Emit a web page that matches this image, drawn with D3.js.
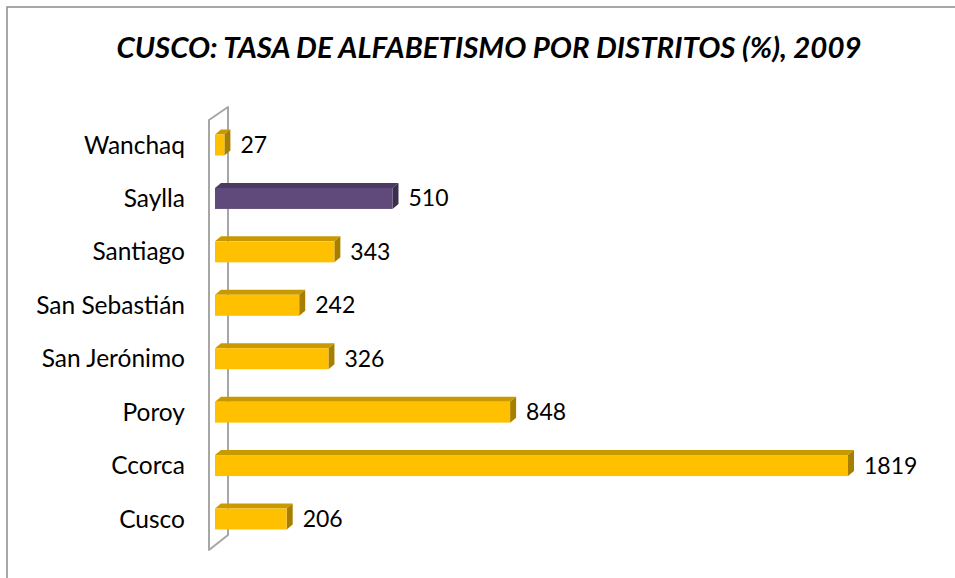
<!DOCTYPE html>
<html>
<head>
<meta charset="utf-8">
<script src="https://cdn.jsdelivr.net/npm/d3@7"></script>
<style>
  html, body { margin: 0; padding: 0; background: #fff; }
  svg { display: block; }
</style>
</head>
<body>
<div id="chart"></div>
<script>
// datos
const districts = ["Wanchaq", "Saylla", "Santiago", "San Sebastián", "San Jerónimo", "Poroy", "Ccorca", "Cusco"];
const values = [27, 510, 343, 242, 326, 848, 1819, 206];
const highlighted = ["Saylla"];
const title = "CUSCO: TASA DE ALFABETISMO POR DISTRITOS (%), 2009";

const COLORS = {
  gold: { front: "#FFC000", top: "#C99A00", side: "#A67F00" },
  purple: { front: "#604A7B", top: "#4B3A62", side: "#3C2E4F" },
  wall: "#A6A6A6",
  frame: "#8C8C8C"
};

const width = 955, height = 578;
const depthX = 6, depthY = -5;
const barH = 21;

const svg = d3.select("#chart").append("svg")
  .attr("width", width)
  .attr("height", height);

// marco
svg.append("rect")
  .attr("x", 7).attr("y", 7)
  .attr("width", width + 20).attr("height", height + 20)
  .attr("fill", "#fff")
  .attr("stroke", COLORS.frame)
  .attr("stroke-width", 1.5);

// titulo
svg.append("text")
  .attr("x", 489).attr("y", 58)
  .attr("text-anchor", "middle")
  .attr("font-family", "Lato, 'Open Sans', sans-serif")
  .attr("font-weight", "bold")
  .attr("font-style", "italic")
  .attr("font-size", "29px")
  .attr("textLength", 745)
  .attr("lengthAdjust", "spacingAndGlyphs")
  .attr("fill", "#000")
  .text(title);

const x = d3.scaleLinear().domain([0, 1819]).range([215, 848]);
const y = d3.scalePoint().domain(districts).range([118.3, 545.7]).padding(0.5);

// pared lateral 3D
const wallL = 209, wallR = 228;
svg.append("path")
  .attr("d", `M${wallL},120 L${wallR},107 L${wallR},535 L${wallL},550 Z`)
  .attr("fill", "#fff")
  .attr("stroke", COLORS.wall)
  .attr("stroke-width", 2)
  .attr("stroke-linejoin", "round");

const data = districts.map((d, i) => ({ name: d, value: values[i] }));

const bars = svg.append("g").selectAll("g.bar")
  .data(data)
  .join("g")
  .attr("class", "bar");

const col = d => highlighted.includes(d.name) ? COLORS.purple : COLORS.gold;

// cara superior
bars.append("path")
  .attr("d", d => {
    const x0 = x(0), x1 = x(d.value), yt = y(d.name) - barH / 2;
    return `M${x0},${yt} L${x0 + depthX},${yt + depthY} L${x1 + depthX},${yt + depthY} L${x1},${yt} Z`;
  })
  .attr("fill", d => col(d).top);

// cara lateral
bars.append("path")
  .attr("d", d => {
    const x1 = x(d.value), yt = y(d.name) - barH / 2;
    return `M${x1},${yt} L${x1 + depthX},${yt + depthY} L${x1 + depthX},${yt + barH + depthY} L${x1},${yt + barH} Z`;
  })
  .attr("fill", d => col(d).side);

// cara frontal
bars.append("rect")
  .attr("x", x(0))
  .attr("y", d => y(d.name) - barH / 2)
  .attr("width", d => x(d.value) - x(0))
  .attr("height", barH)
  .attr("fill", d => col(d).front);

// etiquetas de valor
bars.append("text")
  .attr("x", d => x(d.value) + depthX + 10)
  .attr("y", d => y(d.name))
  .attr("dy", "0.35em")
  .attr("font-family", "Lato, 'Open Sans', sans-serif")
  .attr("font-size", "23px")
  .attr("fill", "#000")
  .text(d => d.value);

// etiquetas de categoria
svg.append("g").selectAll("text")
  .data(districts)
  .join("text")
  .attr("x", 185)
  .attr("y", d => y(d))
  .attr("dy", "0.35em")
  .attr("text-anchor", "end")
  .attr("font-family", "Lato, 'Open Sans', sans-serif")
  .attr("font-size", "24.5px")
  .attr("fill", "#000")
  .text(d => d);
</script>
</body>
</html>
